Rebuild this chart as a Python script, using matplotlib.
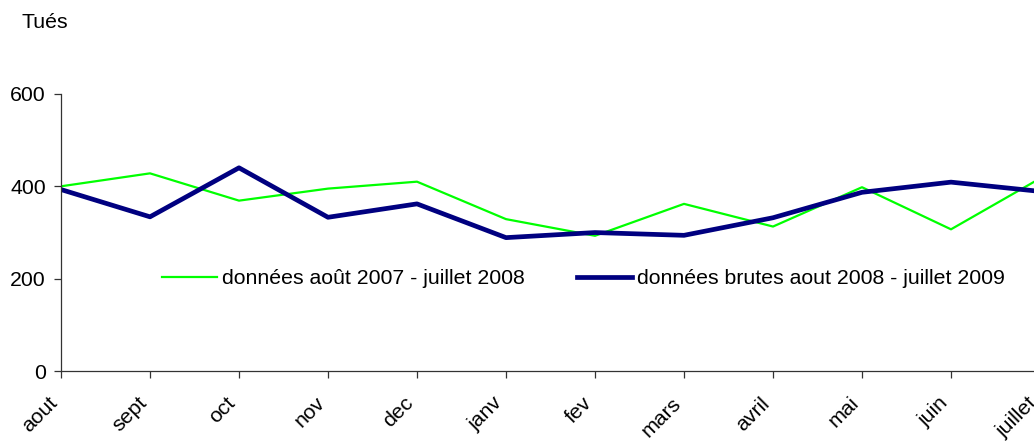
import matplotlib.pyplot as plt
import matplotlib.transforms as mtrans

plt.rcParams['font.family'] = ['Liberation Sans', 'DejaVu Sans']

mois = ['aout', 'sept', 'oct', 'nov', 'dec', 'janv', 'fev', 'mars', 'avril', 'mai', 'juin', 'juillet']
# données août 2007 - juillet 2008
tues_2007 = [400, 428, 369, 395, 410, 329, 293, 362, 313, 398, 307, 417]
# données brutes aout 2008 - juillet 2009
tues_2008 = [393, 334, 440, 333, 362, 289, 300, 294, 332, 387, 409, 389]

fs = 15.3

fig = plt.figure(figsize=(10.34, 4.41), dpi=100)
# the axes run a little past the right edge, like the original
ax = fig.add_axes([61 / 1034, 69.7 / 441, 979 / 1034, 277.5 / 441])

x = range(len(mois))
ax.plot(x, tues_2007, color='#00ff00', lw=1.6, label='données août 2007 - juillet 2008')
ax.plot(x, tues_2008, color='#000080', lw=3.4, label='données brutes aout 2008 - juillet 2009')

ax.set_xlim(0, 11)
ax.set_ylim(0, 600)
ax.set_yticks([0, 200, 400, 600])
ax.set_xticks(list(x))
ax.set_xticklabels(mois, rotation=45, ha='right', rotation_mode='anchor')

for s in ['top', 'right']:
    ax.spines[s].set_visible(False)
for s in ['left', 'bottom']:
    ax.spines[s].set_color('#333333')
    ax.spines[s].set_linewidth(0.9)
ax.tick_params(axis='both', colors='#333333', labelcolor='black', labelsize=fs, length=5, width=0.9)
ax.tick_params(axis='x', pad=11)
ax.tick_params(axis='y', pad=6)

# nudge month labels left a bit
shift = mtrans.ScaledTranslation(-13 / 100, 0, fig.dpi_scale_trans)
for lab in ax.get_xticklabels():
    lab.set_transform(lab.get_transform() + shift)

fig.text(22 / 1034, 1 - 23 / 441, 'Tués', fontsize=fs, va='center', ha='left')

ax.legend(loc='center left', bbox_to_anchor=(162 / 1034, 1 - 279 / 441), bbox_transform=fig.transFigure,
          ncol=2, frameon=False, fontsize=fs, handlelength=2.6, handletextpad=0.23, columnspacing=2.45,
          borderaxespad=0, borderpad=0)

fig.savefig('out.png', dpi=100)
